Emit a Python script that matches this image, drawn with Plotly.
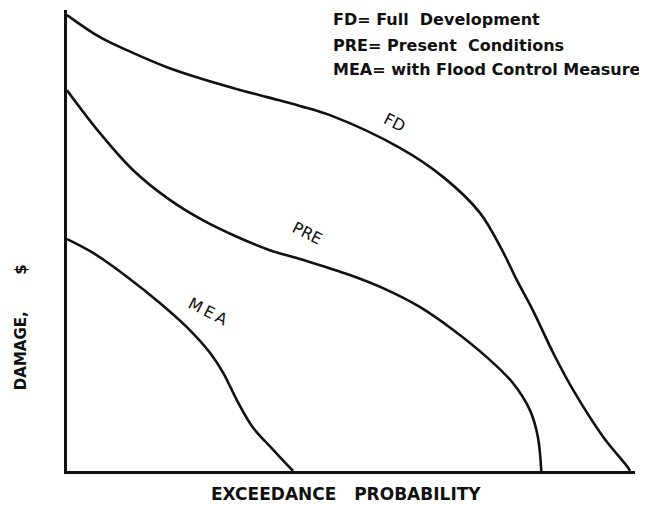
import plotly.graph_objects as go

# Exceedance probability (% of axis length) and damage (% of axis height)
fd_x = [0, 5.8, 11.6, 17.6, 23.4, 29.2, 35.2, 41.0, 46.3, 58.6, 66.2, 72.7, 76.6, 79.2, 82.0, 85.6, 89.1, 94.4, 98.8, 99.1]
fd_y = [98.9, 94.1, 90.7, 87.6, 85.2, 83.1, 81.1, 79.2, 77.2, 70.1, 63.8, 56.0, 47.9, 41.4, 34.9, 25.6, 17.6, 7.4, 0.7, 0]

pre_x = [0, 5.8, 11.6, 18.1, 23.9, 29.9, 35.7, 41.5, 49.8, 56.3, 62.1, 68.0, 73.9, 78.5, 81.5, 82.9, 83.5]
pre_y = [82.6, 73.3, 65.3, 58.8, 54.4, 50.8, 47.9, 45.8, 42.5, 39.3, 35.6, 30.6, 24.7, 19.1, 13.2, 7.4, 0]

mea_x = [0, 4.6, 10.6, 16.4, 21.1, 25.2, 27.5, 29.9, 32.7, 36.3, 39.8]
mea_y = [50.3, 47.3, 42.1, 36.4, 31.2, 25.6, 21.3, 15.4, 9.5, 4.6, 0]

curve_labels = ["FD", "PRE", "M\u2009E\u2009A"]
label_x = [57.7, 42.4, 24.8]
label_y = [75.7, 51.6, 34.5]
label_angle = [27, 27, 27]

legend_lines = [
    "FD= Full\u00a0 Development",
    "PRE= Present\u00a0 Conditions",
    "MEA= with Flood Control Measure",
]
legend_y = [97.9, 92.4, 87.0]

x_title = "EXCEEDANCE\u00a0\u00a0 PROBABILITY"
y_title = "DAMAGE,\u00a0\u00a0\u00a0\u00a0\u00a0\u00a0 $"

fig = go.Figure()
for xs, ys in [(fd_x, fd_y), (pre_x, pre_y), (mea_x, mea_y)]:
    fig.add_trace(go.Scatter(
        x=xs, y=ys, mode="lines",
        line=dict(color="#111111", width=2.6, shape="spline", smoothing=1.0),
        hoverinfo="skip", cliponaxis=False, showlegend=False,
    ))

annotations = []
for t, x, y, a in zip(curve_labels, label_x, label_y, label_angle):
    annotations.append(dict(
        x=x, y=y, xref="x", yref="y", text=t, showarrow=False, textangle=a,
        font=dict(family="DejaVu Sans", size=16, color="#111111"),
        xanchor="center", yanchor="middle",
    ))
for t, y in zip(legend_lines, legend_y):
    annotations.append(dict(
        x=46.5, y=y, xref="x", yref="y", text=t, showarrow=False,
        font=dict(family="DejaVu Sans", size=16, color="#111111", weight="bold"),
        xanchor="left", yanchor="middle",
    ))
annotations.append(dict(
    x=49.2, y=0, xref="x", yref="paper", yshift=-23, text=x_title, showarrow=False,
    font=dict(family="DejaVu Sans", size=17, color="#111111", weight="bold"),
    xanchor="center", yanchor="middle",
))
annotations.append(dict(
    x=0, y=31.2, xref="paper", yref="y", xshift=-46, text=y_title, showarrow=False,
    textangle=-90,
    font=dict(family="DejaVu Sans", size=15, color="#111111", weight="bold"),
    xanchor="center", yanchor="middle",
))

# page body has an 8px margin, so the figure is sized to fill the rest
fig.update_layout(
    width=639, height=498,
    margin=dict(l=59, r=12, t=2, b=35),
    paper_bgcolor="white", plot_bgcolor="white",
    showlegend=False, hovermode=False,
    annotations=annotations,
    xaxis=dict(range=[0, 100], showline=True, linecolor="#111111", linewidth=3,
               showgrid=False, zeroline=False, showticklabels=False, ticks=""),
    yaxis=dict(range=[0, 100], showline=True, linecolor="#111111", linewidth=3,
               showgrid=False, zeroline=False, showticklabels=False, ticks=""),
)

fig.write_html("out.html", config={"displayModeBar": False})
